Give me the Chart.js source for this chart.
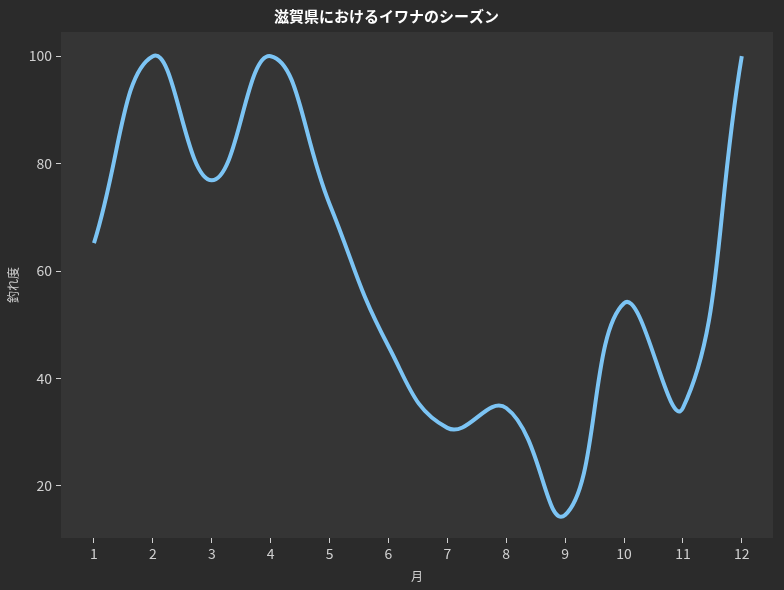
<!DOCTYPE html>
<html><head><meta charset="utf-8">
<script src="https://cdn.jsdelivr.net/npm/chart.js@4/dist/chart.umd.min.js"></script>
<style>html,body{margin:0;padding:0;background:#2b2b2b;}#wrap{width:784px;height:590px;}</style>
</head><body><div id="wrap"><canvas id="c" width="784" height="590"></canvas></div>
<script>
const months = [1,2,3,4,5,6,7,8,9,10,11,12];
const catchRate = [65.2,100,76.9,100,72.5,46,30.8,34.5,14.6,54,34.5,100];
const yTicks = [20,40,60,80,100];
const titleText = '滋賀県におけるイワナのシーズン';
const xTitle = '月';
const yTitle = '釣れ度';

const FONT = "'Noto Sans CJK JP', 'DejaVu Sans', sans-serif";
const TICKFONT = "'Liberation Sans Narrow', 'Noto Sans CJK JP', sans-serif";
const bgPlugin = {
  id:'bg',
  beforeDraw(chart){
    const {ctx, chartArea:a} = chart;
    ctx.save();
    ctx.fillStyle='#2b2b2b';
    ctx.fillRect(0,0,chart.width,chart.height);
    ctx.fillStyle='#353535';
    ctx.fillRect(a.left,a.top,a.right-a.left,a.bottom-a.top);
    ctx.restore();
  }
};
new Chart(document.getElementById('c'),{
  type:'line',
  data:{datasets:[{
    data: months.map((m,i)=>({x:m,y:catchRate[i]})),
    borderColor:'#7cc4f4',
    borderWidth:4,
    pointRadius:0,
    tension:0.45,
    fill:false
  }]},
  options:{
    responsive:false,
    animation:false,
    devicePixelRatio:1,
    layout:{padding:{left:0,right:11,top:0,bottom:0}},
    plugins:{
      legend:{display:false},
      tooltip:{enabled:false},
      title:{display:true,text:titleText,color:'#ffffff',
        font:{family:FONT,size:15,weight:'bold',lineHeight:1.2},
        padding:{top:7,bottom:7}}
    },
    scales:{
      x:{type:'linear',min:0.44,max:12.53,
        afterBuildTicks(ax){ax.ticks=months.map(v=>({value:v}));},
        afterFit(ax){ax.height=52;},
        grid:{drawOnChartArea:false,drawTicks:true,tickLength:5,color:'#d0d0d0'},
        border:{display:false},
        ticks:{color:'#d0d0d0',font:{family:TICKFONT,size:14},padding:2,maxRotation:0,autoSkip:false,
          callback:v=>String(v)},
        title:{display:true,text:xTitle,color:'#d0d0d0',font:{family:FONT,size:12},padding:{top:2,bottom:6}}
      },
      y:{type:'linear',min:10.3,max:104.5,
        afterBuildTicks(ax){ax.ticks=yTicks.map(v=>({value:v}));},
        afterFit(ax){ax.width=61;},
        grid:{drawOnChartArea:false,drawTicks:true,tickLength:5,color:'#d0d0d0'},
        border:{display:false},
        ticks:{color:'#d0d0d0',font:{family:TICKFONT,size:14},padding:4,
          callback:v=>String(v)},
        title:{display:true,text:yTitle,color:'#d0d0d0',font:{family:FONT,size:12},padding:{top:6,bottom:4}}
      }
    }
  },
  plugins:[bgPlugin]
});
</script></body></html>
